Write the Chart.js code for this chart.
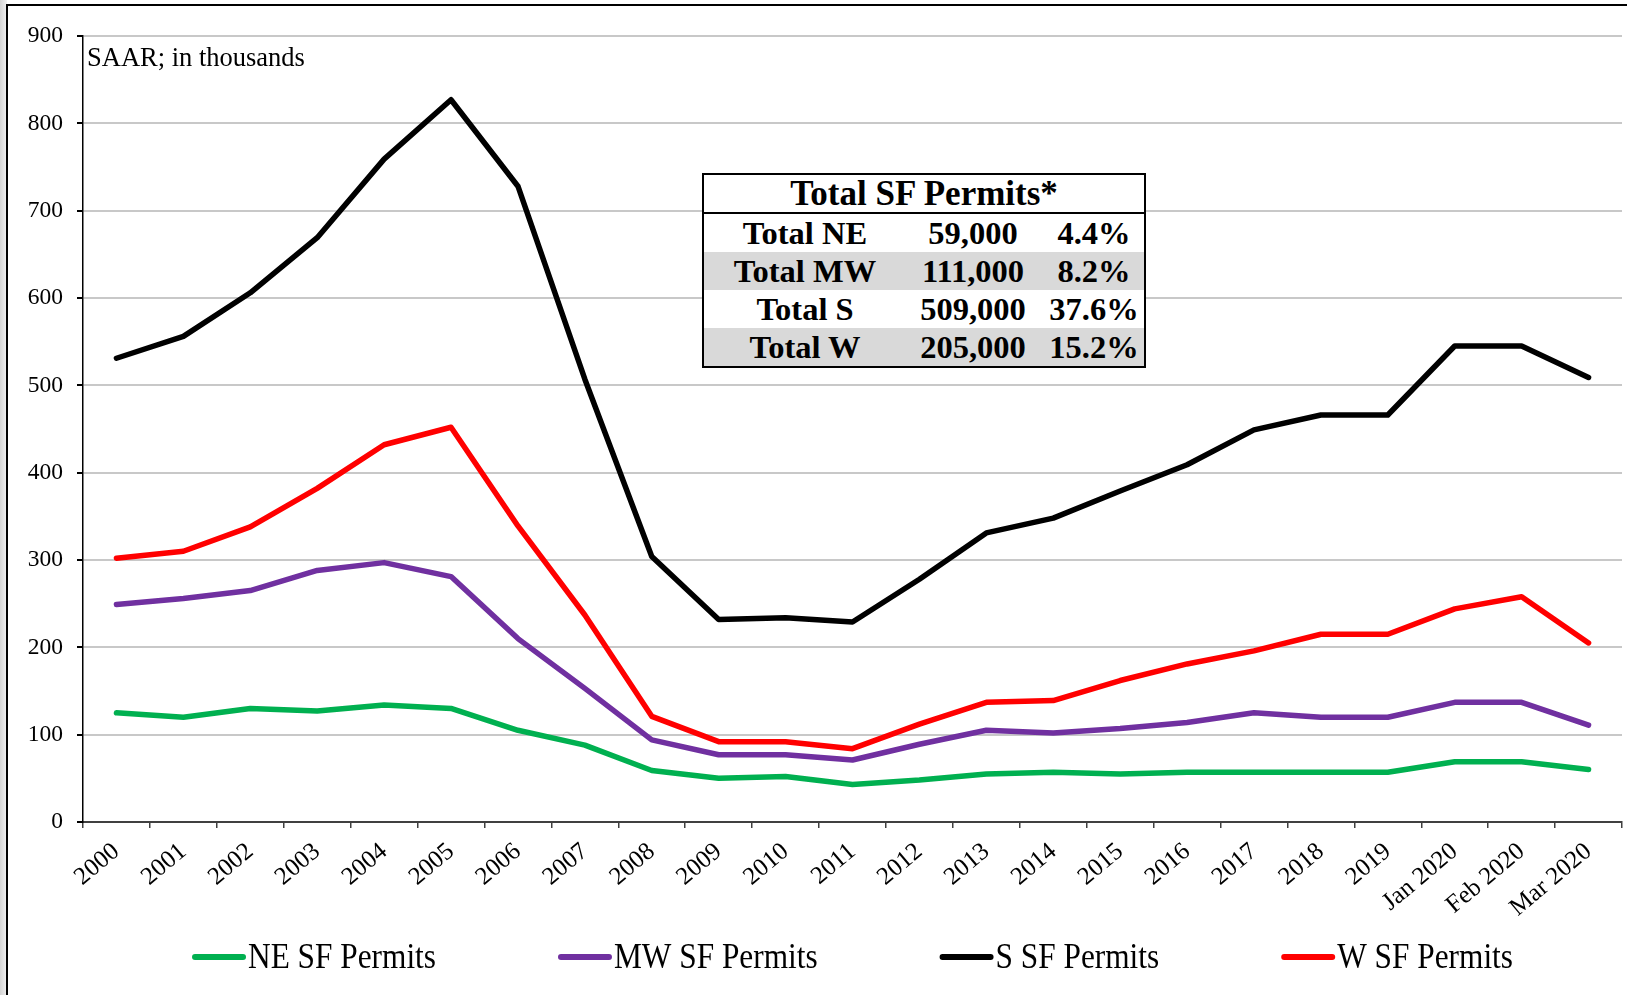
<!DOCTYPE html>
<html>
<head>
<meta charset="utf-8">
<script src="https://cdn.jsdelivr.net/npm/chart.js@4/dist/chart.umd.min.js"></script>
<style>
  body { margin: 0; background: #fff; }
  #wrap { position: relative; width: 1627px; height: 995px; }
  #totals {
    position: absolute; left: 702px; top: 173px; width: 444px;
    border: 2px solid #000; border-collapse: collapse;
    font-family: "Liberation Serif", serif; font-weight: bold; color: #000;
    background: #fff;
  }
  #totals th { font-size: 35px; height: 37px; padding: 0; border-bottom: 2px solid #000; line-height: 37px; }
  #totals td { font-size: 32.5px; height: 38px; padding: 0; line-height: 38px; }
  #totals tr.grey td { background: #d9d9d9; }
  #totals td.c1 { width: 202px; text-align: center; }
  #totals td.c2 { width: 134px; text-align: center; }
  #totals td.c3 { text-align: center; padding-left: 4px; }
</style>
</head>
<body>
<div id="wrap">
  <canvas id="chart"></canvas>
  <table id="totals">
    <tr><th colspan="3">Total SF Permits*</th></tr>
    <tr><td class="c1">Total NE</td><td class="c2">59,000</td><td class="c3">4.4%</td></tr>
    <tr class="grey"><td class="c1">Total MW</td><td class="c2">111,000</td><td class="c3">8.2%</td></tr>
    <tr><td class="c1">Total S</td><td class="c2">509,000</td><td class="c3">37.6%</td></tr>
    <tr class="grey"><td class="c1">Total W</td><td class="c2">205,000</td><td class="c3">15.2%</td></tr>
  </table>
</div>
<script>
// x categories
const periods = [
  "2000", "2001", "2002", "2003", "2004", "2005", "2006", "2007", "2008",
  "2009", "2010", "2011", "2012", "2013", "2014", "2015", "2016", "2017",
  "2018", "2019", "Jan 2020", "Feb 2020", "Mar 2020",
];
// SAAR, thousands
const neValues = [
  125, 120, 130, 127, 134, 130, 105, 88, 59, 50, 52, 43, 48, 55, 57, 55, 57,
  57, 57, 57, 69, 69, 60,
];
const mwValues = [
  249, 256, 265, 288, 297, 281, 210, 153, 94, 77, 77, 71, 89, 105, 102, 107,
  114, 125, 120, 120, 137, 137, 111,
];
const sValues = [
  531, 556, 606, 669, 759, 827, 728, 507, 304, 232, 234, 229, 278, 331, 348,
  379, 409, 449, 466, 466, 545, 545, 509,
];
const wValues = [
  302, 310, 338, 382, 432, 452, 339, 237, 121, 92, 92, 84, 112, 137, 139, 162,
  181, 196, 215, 215, 244, 258, 205,
];
const seriesNames = ["NE SF Permits", "MW SF Permits", "S SF Permits", "W SF Permits"];
const seriesColors = ["#00b050", "#7030a0", "#000000", "#ff0000"];
const yTicks = [0, 100, 200, 300, 400, 500, 600, 700, 800, 900];

const serif = '"Liberation Serif", "Times New Roman", serif';

// frame, unit note and legend are drawn here
const decorPlugin = {
  id: "decor",
  beforeDraw(chart) {
    const ctx = chart.ctx;
    ctx.save();
    const g = ctx.createLinearGradient(0, 0, 7, 0);
    g.addColorStop(0, "#d4d4d4");
    g.addColorStop(1, "#f2f2f2");
    ctx.fillStyle = g;
    ctx.fillRect(0, 0, 7, chart.height);
    ctx.strokeStyle = "#000";
    ctx.lineWidth = 2;
    ctx.beginPath();
    ctx.moveTo(7, chart.height);
    ctx.lineTo(7, 5);
    ctx.lineTo(chart.width, 5);
    ctx.stroke();
    ctx.restore();
  },
  afterDraw(chart) {
    const ctx = chart.ctx;
    const area = chart.chartArea;
    ctx.save();
    ctx.fillStyle = "#000";
    ctx.font = "26.5px " + serif;
    ctx.textBaseline = "alphabetic";
    ctx.fillText("SAAR; in thousands", area.left + 4, 66);

    // legend
    const sx = 0.87;
    const sample = 54;
    const gap = 122;
    ctx.font = "36px " + serif;
    const items = chart.data.datasets.map((ds) => ({
      ds: ds,
      w: sample + 2 + ctx.measureText(ds.label).width * sx,
    }));
    const total = items.reduce((a, it) => a + it.w, 0) + gap * (items.length - 1);
    let x = (area.left + area.right) / 2 - total / 2;
    const y = 957;
    items.forEach((it) => {
      ctx.strokeStyle = it.ds.borderColor;
      ctx.lineWidth = 6;
      ctx.lineCap = "round";
      ctx.beginPath();
      ctx.moveTo(x + 3, y);
      ctx.lineTo(x + sample - 3, y);
      ctx.stroke();
      ctx.save();
      ctx.translate(x + sample + 2, y);
      ctx.scale(sx, 1);
      ctx.textBaseline = "middle";
      ctx.fillText(it.ds.label, 0, 2);
      ctx.restore();
      x += it.w + gap;
    });
    ctx.restore();
  },
};

const valueSets = [neValues, mwValues, sValues, wValues];
const ctx = document.getElementById("chart").getContext("2d");
const myChart = new Chart(ctx, {
  type: "line",
  data: {
    labels: periods,
    datasets: valueSets.map((vals, i) => ({
      label: seriesNames[i],
      data: vals,
      borderColor: seriesColors[i],
      backgroundColor: seriesColors[i],
      borderWidth: 5.5,
      tension: 0,
      pointRadius: 0,
      borderJoinStyle: "round",
      borderCapStyle: "round",
      fill: false,
    })),
  },
  options: {
    responsive: true,
    maintainAspectRatio: false,
    animation: false,
    layout: { padding: { top: 36, right: 5, left: 0, bottom: 0 } },
    plugins: {
      legend: { display: false },
      tooltip: { enabled: false },
    },
    scales: {
      x: {
        offset: true,
        afterFit: (s) => { s.height = 173; },
        grid: {
          offset: true,
          drawOnChartArea: false,
          drawTicks: true,
          tickLength: 6,
          tickColor: "#404040",
          lineWidth: 1.5,
        },
        border: { color: "#404040", width: 2 },
        ticks: {
          autoSkip: false,
          maxRotation: 40,
          minRotation: 40,
          padding: 9,
          color: "#000",
          font: { family: serif, size: 25 },
        },
      },
      y: {
        min: 0,
        max: 900,
        afterFit: (s) => { s.width = 83; },
        afterBuildTicks: (s) => { s.ticks = yTicks.map((v) => ({ value: v })); },
        grid: {
          color: "#c8c8c8",
          lineWidth: 2,
          tickLength: 6,
          tickColor: "#000",
        },
        border: { color: "#000", width: 1.5 },
        ticks: {
          padding: 14,
          color: "#000",
          font: { family: serif, size: 23.5 },
        },
      },
    },
  },
  plugins: [decorPlugin],
});
</script>
</body>
</html>
